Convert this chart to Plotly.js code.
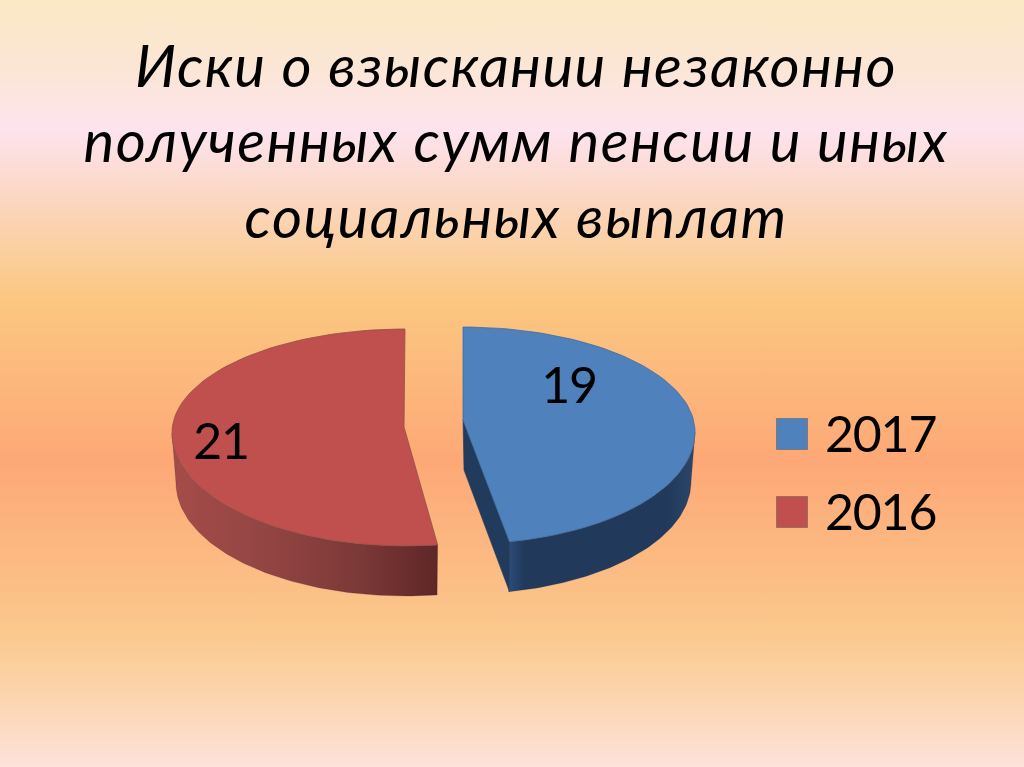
<!DOCTYPE html>
<html><head><meta charset="utf-8">
<script src="https://cdn.plot.ly/plotly-3.0.1.min.js"></script>
<style>
html,body{margin:0;padding:0;width:1024px;height:767px;overflow:hidden;
background:linear-gradient(180deg,#fbe8c4 0px,#fbe6d6 70px,#fde3ee 130px,#fbd7c0 200px,#fbc780 300px,#fcb87c 380px,#fda876 460px,#fcb880 550px,#fbc88c 630px,#fcd6b0 700px,#fde2dc 767px);}
#chart{width:1024px;height:767px;}
.gtitle{letter-spacing:1.5px;}
.textpoint text{letter-spacing:-1.2px;}
</style></head><body><div id="chart"></div>
<script>
var titleText = "Иски о взыскании незаконно<br>полученных сумм пенсии и иных<br>социальных выплат";
var categories = ["2017","2016"];
var values = [19,21];
var total = values[0]+values[1];
var pts = 90;

function xy(cx,cy,a,bBack,bFront,deg,dir){
  var t=deg*Math.PI/180, c=Math.cos(t);
  return [cx+dir*a*Math.sin(t), cy-(c>0?bBack:bFront)*c];
}
function arc(g,from,to,dy,da){
  var xs=[],ys=[];
  for(var i=0;i<=pts;i++){
    var d=from+(to-from)*i/pts, p=xy(g.cx,g.cy,g.a-(da||0),g.bb,g.bf,d,g.dir);
    xs.push(p[0]); ys.push(p[1]+(dy||0));
  }
  return {x:xs,y:ys};
}
var depth=50;
var blue={cx:463,cy:432,a:232,bb:105,bf:112,dir:1,apexX:463,apexY:420,squeeze:0.985};
var red ={cx:405,cy:433,a:233,bb:104,bf:113,dir:-1,apexX:404,apexY:427,squeeze:0.995};
blue.sweep=values[0]/total*360*blue.squeeze;
red.sweep =values[1]/total*360*red.squeeze;

function topFace(g,color,line){
  var a=arc(g,0,g.sweep);
  return {type:"scatter",mode:"lines",x:[g.apexX].concat(a.x,[g.apexX]),y:[g.apexY].concat(a.y,[g.apexY]),
    fill:"toself",fillcolor:color,line:{color:line,width:0.8},hoverinfo:"skip"};
}
function wall(g,colors){
  var a=arc(g,90,g.sweep), b=arc(g,g.sweep,90,depth,4);
  return {type:"scatter",mode:"lines",x:a.x.concat(b.x,[a.x[0]]),y:a.y.concat(b.y,[a.y[0]]),
    fill:"toself",line:{color:"rgba(40,30,40,0.35)",width:0.6},hoverinfo:"skip",
    fillgradient:{type:"horizontal",colorscale:colors}};
}
function cutFace(g,color){
  var e=xy(g.cx,g.cy,g.a,g.bb,g.bf,g.sweep,g.dir);
  return {type:"scatter",mode:"lines",
    x:[g.apexX,e[0],e[0],g.apexX+1,g.apexX],y:[g.apexY,e[1],e[1]+depth,g.apexY+depth,g.apexY],
    fill:"toself",fillcolor:color,line:{color:color,width:0.6},hoverinfo:"skip"};
}
var colors={top:["#4F81BD","#C0504D"],topLine:["#3f6c9f","#8f5048"]};
var traces=[
  wall(red,[[0,"#a54c4a"],[0.35,"#934543"],[0.7,"#7c3937"],[1,"#5e2727"]]),
  topFace(red,colors.top[1],colors.topLine[1]),
  cutFace(blue,"#213b5d"),
  wall(blue,[[0,"#2c4d78"],[0.08,"#213a5c"],[0.85,"#213a5c"],[1,"#2a4668"]]),
  topFace(blue,colors.top[0],colors.topLine[0]),
  {type:"scatter",mode:"text",x:[569,221],y:[390,446],text:values.map(String),
   textfont:{family:"Lato, Carlito, sans-serif",size:50,color:"#000"},textposition:"middle center",hoverinfo:"skip"},
  {type:"scatter",mode:"markers",x:[792,792],y:[434,512],
   marker:{symbol:"square",size:31,color:colors.top,line:{color:"rgba(90,90,90,0.5)",width:1}},hoverinfo:"skip"},
  {type:"scatter",mode:"text",x:[825,825],y:[439,517],text:categories,textposition:"middle right",
   textfont:{family:"Lato, Carlito, sans-serif",size:50,color:"#000"},hoverinfo:"skip"}
];
var layout={
  width:1024,height:767,margin:{l:0,r:0,t:0,b:0},
  paper_bgcolor:"rgba(0,0,0,0)",plot_bgcolor:"rgba(0,0,0,0)",showlegend:false,
  title:{text:titleText,x:0.504,xanchor:"center",y:1,yanchor:"top",pad:{t:87},
    font:{family:"Lato, Carlito, sans-serif",size:58,style:"italic",color:"#000"}},
  xaxis:{range:[0,1024],visible:false,fixedrange:true},
  yaxis:{range:[767,0],visible:false,fixedrange:true}
};
Plotly.newPlot("chart",traces,layout,{displayModeBar:false,staticPlot:true});
</script></body></html>
